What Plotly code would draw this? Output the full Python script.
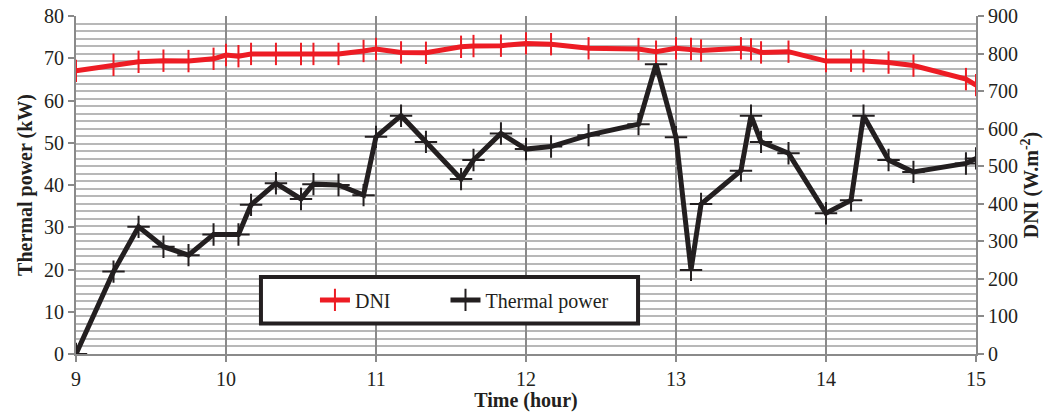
import plotly.graph_objects as go

# Thermal power (kW), left axis
tp_time = [9.0, 9.25, 9.417, 9.583, 9.75, 9.917, 10.083, 10.167, 10.333, 10.5, 10.583,
           10.75, 10.917, 11.0, 11.167, 11.333, 11.567, 11.65, 11.833, 12.0, 12.167,
           12.417, 12.75, 12.867, 13.0, 13.1, 13.167, 13.433, 13.5, 13.567, 13.75,
           14.0, 14.167, 14.25, 14.417, 14.583, 14.933, 15.0]
tp_kw = [0, 19.5, 30.1, 25.4, 23.4, 28.3, 28.3, 35.3, 40.4, 36.7, 40.2,
         40.0, 37.6, 51.4, 56.4, 50.2, 41.4, 45.9, 52.2, 48.5, 49.1,
         51.8, 54.4, 68.6, 51.3, 19.9, 35.5, 43.4, 56.4, 50.2, 47.5,
         33.3, 36.4, 56.4, 45.9, 43.1, 45.1, 46.3]

# DNI (W.m-2), right axis
dni_time = [9.0, 9.25, 9.417, 9.583, 9.75, 9.917, 10.0, 10.083, 10.167, 10.333, 10.5,
            10.583, 10.75, 10.917, 11.0, 11.167, 11.333, 11.567, 11.65, 11.833, 12.0,
            12.167, 12.417, 12.75, 12.867, 13.0, 13.1, 13.167, 13.433, 13.5, 13.567,
            13.75, 14.0, 14.167, 14.25, 14.417, 14.583, 14.933, 15.0]
dni_val = [754, 770, 778, 781, 780, 786, 796, 793, 799, 799, 799,
           799, 799, 807, 812, 803, 802, 818, 820, 821, 827,
           825, 814, 812, 805, 814, 812, 808, 814, 811, 803,
           805, 780, 781, 780, 776, 768, 732, 716]

x_ticks = [9, 10, 11, 12, 13, 14, 15]

RED = "#ed1c24"
BLACK = "#231f20"
FONT = "Liberation Serif"
PAD = "\u00a0" * 10

fig = go.Figure()
fig.add_trace(go.Scatter(
    x=dni_time, y=dni_val, name="DNI" + PAD, yaxis="y2", mode="lines+markers",
    line=dict(color=RED, width=5),
    marker=dict(symbol="line-ns", size=16, line=dict(color=RED, width=2), color=RED),
))
fig.add_trace(go.Scatter(
    x=tp_time, y=tp_kw, name="Thermal power", yaxis="y", mode="lines+markers",
    line=dict(color=BLACK, width=5),
    marker=dict(symbol="cross-thin", size=16, line=dict(color=BLACK, width=2), color=BLACK),
))

# legend frame drawn as a shape (paper coords of the plot area)
fig.add_shape(type="rect", xref="paper", yref="paper",
              x0=0.2055, x1=0.6245, y0=0.0905, y1=0.228,
              line=dict(color="#231f20", width=4), fillcolor="white", layer="above")

fig.update_layout(
    width=1058, height=412,
    margin=dict(l=76, r=82, t=16, b=58),
    paper_bgcolor="white", plot_bgcolor="white",
    font=dict(family=FONT, size=20, color="#231f20"),
    showlegend=True,
    legend=dict(
        orientation="h", x=0.2655, y=0.16, xanchor="left", yanchor="middle",
        bgcolor="rgba(0,0,0,0)", borderwidth=0,
        font=dict(family=FONT, size=20, color="#231f20"),
        traceorder="normal",
    ),
    xaxis=dict(
        range=[9, 15], tickvals=x_ticks, ticktext=[str(v) for v in x_ticks],
        showgrid=True, gridcolor="#8a8a8a", gridwidth=2,
        showline=True, linecolor="#8a8a8a", linewidth=2,
        ticks="outside", ticklen=6, tickcolor="#8a8a8a", tickwidth=2,
        title=dict(text="<b>Time (hour)</b>", standoff=0, font=dict(size=20)),
        zeroline=False, automargin=False, ticklabeloverflow="allow",
    ),
    yaxis=dict(
        range=[0, 80], dtick=10, showgrid=False,
        showline=True, linecolor="#8a8a8a", linewidth=2,
        ticks="outside", ticklen=6, tickcolor="#8a8a8a", tickwidth=2,
        title=dict(text="<b>Thermal power (kW)</b>", standoff=6, font=dict(size=20)),
        zeroline=False, automargin=False, ticklabeloverflow="allow",
    ),
    yaxis2=dict(
        range=[0, 900], dtick=100, overlaying="y", side="right",
        showgrid=True, gridcolor="#b8b8b8", gridwidth=2,
        minor=dict(dtick=20, showgrid=True, gridcolor="#b8b8b8", gridwidth=2),
        showline=True, linecolor="#8a8a8a", linewidth=2,
        ticks="outside", ticklen=6, tickcolor="#8a8a8a", tickwidth=2,
        title=dict(text="<b>DNI (W.m<sup>-2</sup>)</b>", standoff=6, font=dict(size=20)),
        zeroline=False, automargin=False, ticklabeloverflow="allow",
    ),
)

# remove the default 8px body margin so the figure fills the window exactly
fig.write_html("out.html", config={"displayModeBar": False},
               post_script="document.body.style.margin='0';")
